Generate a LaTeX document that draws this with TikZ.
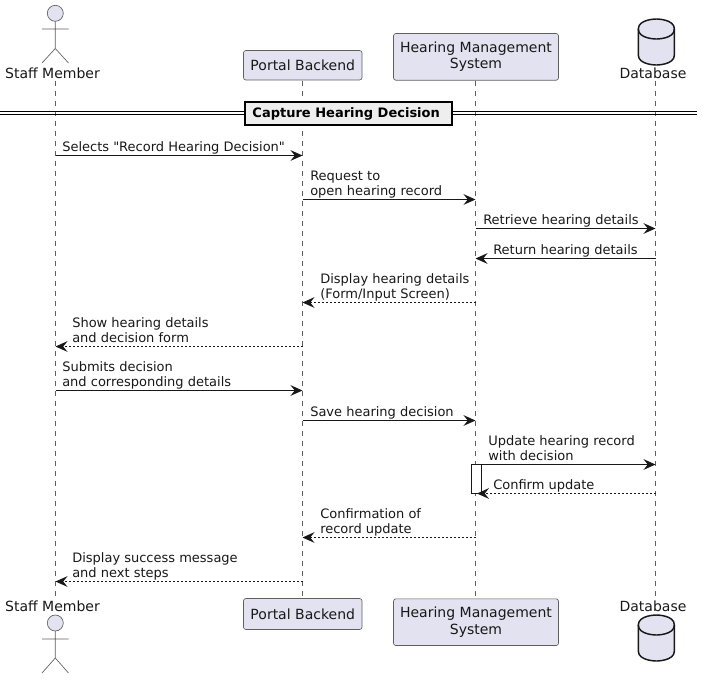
\documentclass[tikz,border=0pt]{standalone}
\usepackage{fontspec}
\newfontfamily\dvu{DejaVu Sans}
\usetikzlibrary{arrows.meta}
\definecolor{partfill}{HTML}{E2E2F0}
\definecolor{ink}{HTML}{181818}
\definecolor{edge}{HTML}{5F5F5F}
\definecolor{divfill}{HTML}{EEEEEE}
\tikzset{
  x=0.75pt,y=-0.75pt,
  part/.style={draw=edge,fill=partfill,line width=0.5pt,rounded corners=1.8pt,inner sep=0pt,align=center,text=ink,font=\dvu\fontsize{10.5}{12.2}\selectfont},
  actorlbl/.style={inner sep=0pt,anchor=base,text=ink,font=\dvu\fontsize{10.5}{12.2}\selectfont},
  actorhead/.style={draw=edge,fill=partfill,line width=0.5pt},
  actorline/.style={draw=edge,line width=0.5pt},
  dbshape/.style={draw=ink,fill=partfill,line width=1.1pt},
  dbrim/.style={draw=ink,line width=1.1pt},
  life/.style={draw=edge,line width=0.4pt,dash pattern=on 3.75pt off 3.75pt},
  msgtxt/.style={inner sep=0pt,anchor=south west,align=left,text=ink,yshift=-0.6pt,font=\dvu\fontsize{9.75}{11.3}\selectfont},
  tipm/.style={-{Stealth[length=9pt,width=8pt,inset=3.2pt]}},
  solidmsg/.style={draw=ink,line width=0.75pt,tipm},
  dashmsg/.style={draw=ink,line width=0.75pt,dash pattern=on 1.5pt off 1.5pt,tipm},
  dblline/.style={draw=black,line width=0.75pt},
}
\begin{document}
\begin{tikzpicture}
\useasboundingbox (0,0) rectangle (703,679);
% lifelines
\coordinate (sT) at (55.5,81); \coordinate (sB) at (55.5,597);
\coordinate (pT) at (302.5,81); \coordinate (pB) at (302.5,598);
\coordinate (hT) at (475.5,81); \coordinate (hB) at (475.5,598);
\coordinate (dT) at (655.5,81); \coordinate (dB) at (655.5,597);
\draw[life] (sT) -- (sB);
\draw[life] (pT) -- (pB);
\draw[life] (hT) -- (hB);
\draw[life] (dT) -- (dB);
% divider
\coordinate (dl1) at (0,111.5); \coordinate (dr1) at (697,111.5);
\coordinate (dl2) at (0,114.5); \coordinate (dr2) at (697,114.5);
\draw[dblline] (dl1) -- (dr1);
\draw[dblline] (dl2) -- (dr2);
\node[draw=black,line width=1.5pt,fill=divfill,minimum width=206.5*0.75pt,minimum height=23*0.75pt,inner sep=0pt,text height=8pt,text depth=1.6pt,font=\dvu\bfseries\fontsize{9.75}{11.3}\selectfont,text=black] (div) at (348.5,113) {Capture Hearing Decision\kern 3.5pt};
% top participants
\node[actorlbl] (staffT) at (52.5,78) {Staff Member};
\node[part,minimum width=118.5*0.75pt,minimum height=29.5*0.75pt] (portalT) at (302.75,65.25) {Portal Backend};
\node[part,minimum width=165*0.75pt,minimum height=46.7*0.75pt] (hearT) at (476,56.85) {\raisebox{-1pt}{Hearing Management}\\\raisebox{-1pt}{System}};
\node[actorlbl] (dbT) at (653,78) {Database};
% bottom participants
\node[actorlbl] (staffB) at (52.5,611.7) {Staff Member};
\node[part,minimum width=118.5*0.75pt,minimum height=31*0.75pt] (portalB) at (302.75,614) {Portal Backend};
\node[part,minimum width=165*0.75pt,minimum height=46.7*0.75pt] (hearB) at (476,622.2) {\raisebox{-1pt}{Hearing Management}\\\raisebox{-1pt}{System}};
\node[actorlbl] (dbB) at (653,611.7) {Database};
% actors
\draw[actorhead] (55.3,13.3) circle[radius=8];
\draw[actorline] (55.3,21.3) -- (55.3,48.5) (42,29) -- (68.5,29) (42,63) -- (55.3,48.5) -- (68.5,63);
\draw[actorhead] (55.3,623) circle[radius=8];
\draw[actorline] (55.3,631) -- (55.3,658) (42,639) -- (68.5,639) (42,673) -- (55.3,658) -- (68.5,673);
% databases
\draw[dbshape] (638.3,29) .. controls (638.3,19) and (656.4,19) .. (656.4,19) .. controls (656.4,19) and (674.4,19) .. (674.4,29) -- (674.4,55) .. controls (674.4,65) and (656.4,65) .. (656.4,65) .. controls (656.4,65) and (638.3,65) .. (638.3,55) -- cycle;
\draw[dbrim] (638.3,29) .. controls (638.3,39) and (656.4,39) .. (656.4,39) .. controls (656.4,39) and (674.4,39) .. (674.4,29);
\draw[dbshape] (638.3,625) .. controls (638.3,615) and (656.4,615) .. (656.4,615) .. controls (656.4,615) and (674.4,615) .. (674.4,625) -- (674.4,651) .. controls (674.4,661) and (656.4,661) .. (656.4,661) .. controls (656.4,661) and (638.3,661) .. (638.3,651) -- cycle;
\draw[dbrim] (638.3,625) .. controls (638.3,635) and (656.4,635) .. (656.4,635) .. controls (656.4,635) and (674.4,635) .. (674.4,625);
% activation
\node[draw=ink,fill=white,line width=0.75pt,minimum width=10*0.75pt,minimum height=29*0.75pt,inner sep=0pt] (act) at (476.5,479) {};
% messages
\newcommand{\lbl}[4]{\node[msgtxt] (#1) at (#2,#3) {#4\vphantom{gp}};}
\coordinate (f1) at (55.5,155.5); \coordinate (t1) at (302.5,155.5);
\draw[solidmsg] (f1) -- (t1); \lbl{m1}{62}{153.5}{Selects "Record Hearing Decision"}
\coordinate (f2) at (302.5,199.5); \coordinate (t2) at (475.5,199.5);
\draw[solidmsg] (f2) -- (t2); \lbl{m2}{310}{197.5}{Request to\\open hearing record}
\coordinate (f3) at (475.5,228.5); \coordinate (t3) at (655.5,228.5);
\draw[solidmsg] (f3) -- (t3); \lbl{m3}{483}{226.5}{Retrieve hearing details}
\coordinate (f4) at (655.5,258.5); \coordinate (t4) at (475.5,258.5);
\draw[solidmsg] (f4) -- (t4); \lbl{m4}{493}{256.5}{Return hearing details}
\coordinate (f5) at (475.5,302.5); \coordinate (t5) at (302.5,302.5);
\draw[dashmsg] (f5) -- (t5); \lbl{m5}{320}{300.5}{Display hearing details\\(Form/Input Screen)}
\coordinate (f6) at (302.5,346.5); \coordinate (t6) at (55.5,346.5);
\draw[dashmsg] (f6) -- (t6); \lbl{m6}{72}{344.5}{Show hearing details\\and decision form}
\coordinate (f7) at (55.5,390.5); \coordinate (t7) at (302.5,390.5);
\draw[solidmsg] (f7) -- (t7); \lbl{m7}{62}{388.5}{Submits decision\\and corresponding details}
\coordinate (f8) at (302.5,420.5); \coordinate (t8) at (475.5,420.5);
\draw[solidmsg] (f8) -- (t8); \lbl{m8}{310}{418.5}{Save hearing decision}
\coordinate (f9) at (481.5,464.5); \coordinate (t9) at (655.5,464.5);
\draw[solidmsg] (f9) -- (t9); \lbl{m9}{488}{462.5}{Update hearing record\\with decision}
\coordinate (f10) at (655.5,493.5); \coordinate (t10) at (477,493.5);
\draw[dashmsg] (f10) -- (t10); \lbl{m10}{493}{491.5}{Confirm update}
\coordinate (f11) at (475.5,537.5); \coordinate (t11) at (302.5,537.5);
\draw[dashmsg] (f11) -- (t11); \lbl{m11}{320}{535.5}{Confirmation of\\record update}
\coordinate (f12) at (302.5,581.5); \coordinate (t12) at (55.5,581.5);
\draw[dashmsg] (f12) -- (t12); \lbl{m12}{72}{579.5}{Display success message\\and next steps}
\end{tikzpicture}
\end{document}
